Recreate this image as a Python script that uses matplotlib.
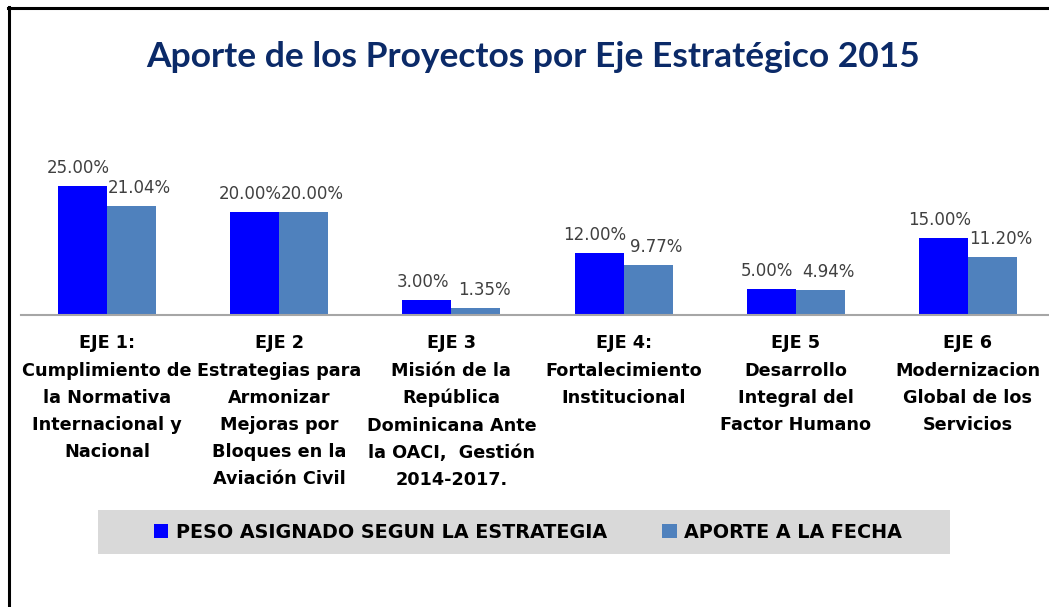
import numpy as np
import matplotlib.pyplot as plt
from matplotlib.lines import Line2D
from matplotlib.patches import Rectangle

# data
ejes = ['EJE 1:\nCumplimiento de\nla Normativa\nInternacional y\nNacional',
        'EJE 2\nEstrategias para\nArmonizar\nMejoras por\nBloques en la\nAviación Civil',
        'EJE 3\nMisión de la\nRepública\nDominicana Ante\nla OACI,  Gestión\n2014-2017.',
        'EJE 4:\nFortalecimiento\nInstitucional',
        'EJE 5\nDesarrollo\nIntegral del\nFactor Humano',
        'EJE 6\nModernizacion\nGlobal de los\nServicios']
peso = [25.00, 20.00, 3.00, 12.00, 5.00, 15.00]
aporte = [21.04, 20.00, 1.35, 9.77, 4.94, 11.20]
series_names = ['PESO ASIGNADO SEGUN LA ESTRATEGIA', 'APORTE A LA FECHA']

c_peso = '#0000FF'
c_aporte = '#4F81BD'

W, H = 1049, 607
fig = plt.figure(figsize=(W / 100, H / 100), dpi=100)

# frame lines (left + top only)
fig.add_artist(Line2D([9 / W, 9 / W], [0, 1 - 7 / H], color='black', lw=2.2))
fig.add_artist(Line2D([8 / W, 1], [1 - 7.5 / H, 1 - 7.5 / H], color='black', lw=2.2))

fig.text(533 / W, 1 - 57 / H, 'Aporte de los Proyectos por Eje Estratégico 2015',
         ha='center', va='center', fontsize=25.5, fontweight='bold',
         family='Lato', color='#0B2A68')

ax = fig.add_axes([21 / W, 1 - 315 / H, 1033 / W, 154.8 / H])
x = np.arange(len(ejes))
bw = 0.285
b1 = ax.bar(x - bw / 2, peso, bw, color=c_peso, label=series_names[0])
b2 = ax.bar(x + bw / 2, aporte, bw, color=c_aporte, label=series_names[1])

for rect, v in zip(b1, peso):
    ax.annotate(f'{v:.2f}%', (rect.get_x() + rect.get_width() / 2, v),
                xytext=(-4, 9), textcoords='offset pixels', ha='center',
                va='bottom', fontsize=12, color='#404040')
for rect, v in zip(b2, aporte):
    ax.annotate(f'{v:.2f}%', (rect.get_x() + rect.get_width() / 2, v),
                xytext=(8, 9), textcoords='offset pixels', ha='center',
                va='bottom', fontsize=12, color='#404040')

ax.set_xlim(-0.5, len(ejes) - 0.5)
ax.set_ylim(0, 30)
ax.set_yticks([])
ax.set_xticks(x)
ax.set_xticklabels(ejes, fontsize=12.7, fontweight='bold', linespacing=1.65,
                   va='top')
ax.tick_params(axis='x', length=0, pad=14)
for s in ['top', 'right', 'left']:
    ax.spines[s].set_visible(False)
ax.spines['bottom'].set_color('#A6A6A6')
ax.spines['bottom'].set_linewidth(1.5)

# legend band
fig.add_artist(Rectangle((98 / W, 1 - 554 / H), 852 / W, 44 / H,
                         transform=fig.transFigure, facecolor='#D9D9D9',
                         edgecolor='none', zorder=0))
fig.legend(handles=[b1, b2], labels=series_names, loc='center',
           bbox_to_anchor=(528 / W, 1 - 532 / H), ncol=2, frameon=False,
           prop={'weight': 'bold', 'size': 13.8}, handlelength=0.75,
           handleheight=0.7, handletextpad=0.4, columnspacing=2.9)

fig.savefig('out.png', dpi=100)
